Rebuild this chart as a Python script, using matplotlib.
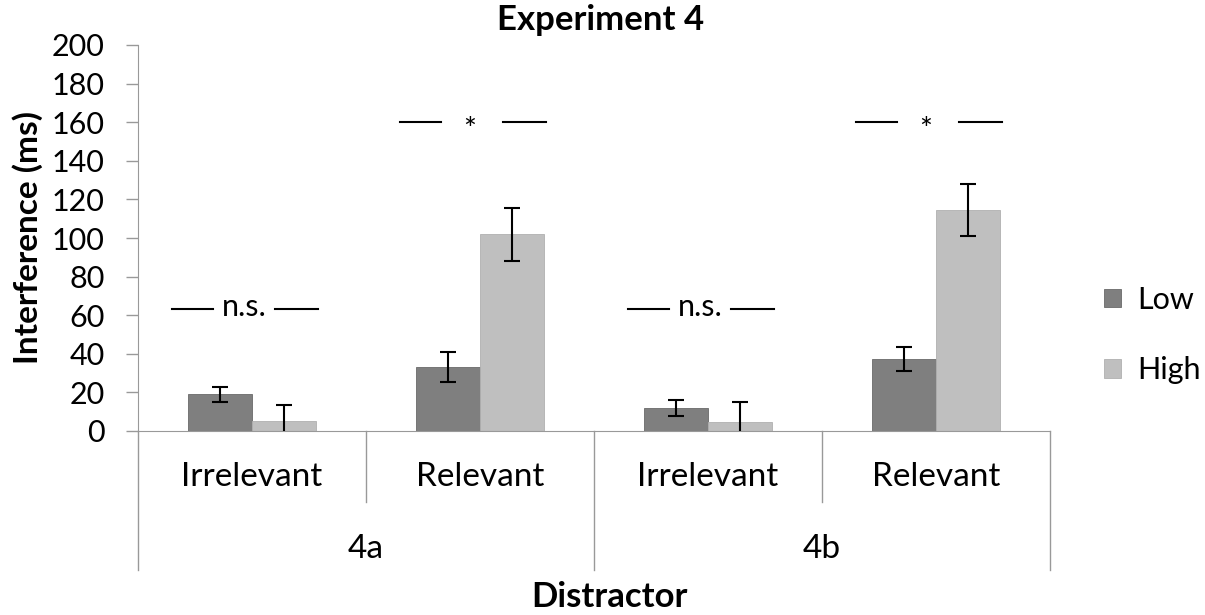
import matplotlib
matplotlib.use("Agg")
import matplotlib.pyplot as plt
import numpy as np

plt.rcParams['font.family'] = ['Lato', 'DejaVu Sans']

subcats = ["Irrelevant", "Relevant", "Irrelevant", "Relevant"]
groups = ["4a", "4b"]
low_vals = [19, 33, 12, 37.5]
low_err = [4, 7.7, 4, 6.2]
high_vals = [5, 102, 4.5, 114.5]
high_err = [8.5, 13.8, 10.5, 13.7]
sig_labels = ["n.s.", "*", "n.s.", "*"]
sig_levels = [63, 160, 63, 160]
yticks = [0, 20, 40, 60, 80, 100, 120, 140, 160, 180, 200]

W, H = 1205, 615
fig = plt.figure(figsize=(W / 100, H / 100), dpi=100)
ax = fig.add_axes([138 / W, (H - 431) / H, (1050 - 138) / W, (431 - 45) / H])

x = np.arange(len(subcats))
bw = 0.28
dark = "#7f7f7f"
light = "#bfbfbf"
ax.bar(x - bw / 2, low_vals, bw, color=dark, edgecolor="#6a6a6a", linewidth=0.6, label="Low", zorder=2)
ax.bar(x + bw / 2, high_vals, bw, color=light, edgecolor="#b0b0b0", linewidth=0.6, label="High", zorder=2)
ax.errorbar(x - bw / 2, low_vals, yerr=low_err, fmt="none", ecolor="black",
            elinewidth=1.5, capsize=6, capthick=1.5, zorder=3)
ax.errorbar(x + bw / 2, high_vals, yerr=high_err, fmt="none", ecolor="black",
            elinewidth=1.5, capsize=6, capthick=1.5, zorder=3)

ax.set_xlim(-0.5, len(subcats) - 0.5)
ax.set_ylim(0, 200)
ax.set_yticks(yticks)
ax.tick_params(axis="y", length=9, width=1, color="#999999", labelsize=22, pad=15)
ax.set_xticks([])
for s in ["top", "right"]:
    ax.spines[s].set_visible(False)
ax.spines["left"].set_color("#999999")
ax.spines["bottom"].set_color("#999999")

# significance annotations
for i, (lab, lv) in enumerate(zip(sig_labels, sig_levels)):
    ax.plot([i - 0.35, i - 0.17], [lv, lv], color="black", lw=1.5, zorder=3)
    ax.plot([i + 0.10, i + 0.29], [lv, lv], color="black", lw=1.5, zorder=3)
    if lab == "*":
        ax.text(i - 0.045, lv - 4, lab, ha="center", va="center", fontsize=22, zorder=3)
    else:
        ax.text(i - 0.035, lv + 1, lab, ha="center", va="center", fontsize=22, zorder=3)

# category axis
tr = ax.get_xaxis_transform()
short = (431 - 502) / (431 - 45)
long_ = (431 - 570) / (431 - 45)
for b in [0.5, 2.5]:
    ax.plot([b, b], [0, short], transform=tr, color="#999999", lw=1, clip_on=False)
for b in [-0.5, 1.5, 3.5]:
    ax.plot([b, b], [0, long_], transform=tr, color="#999999", lw=1, clip_on=False)
sub_y = (431 - 477) / (431 - 45)
grp_y = (431 - 549) / (431 - 45)
for i, s in enumerate(subcats):
    ax.text(i, sub_y, s, transform=tr, ha="center", va="center", fontsize=24)
for j, g in enumerate(groups):
    ax.text(2 * j + 0.5, grp_y, g, transform=tr, ha="center", va="center", fontsize=24)

fig.text(0.5 * (138 + 1050) / W + 15 / W, 1 - 597 / H, "Distractor", ha="center", va="center",
         fontsize=25, fontweight="bold")
fig.text(601 / W, 1 - 20 / H, "Experiment 4", ha="center", va="center",
         fontsize=25, fontweight="bold")
fig.text(28 / W, 1 - 238 / H, "Interference (ms)", ha="center", va="center",
         rotation=90, fontsize=24, fontweight="bold")

ax.legend(loc="center left", bbox_to_anchor=(1104 / W, 1 - 335 / H),
          bbox_transform=fig.transFigure, frameon=False, fontsize=22,
          handlelength=0.55, handleheight=0.55, handletextpad=0.55, labelspacing=1.4,
          borderpad=0, borderaxespad=0)

fig.savefig("out.png", dpi=100, facecolor="white")
